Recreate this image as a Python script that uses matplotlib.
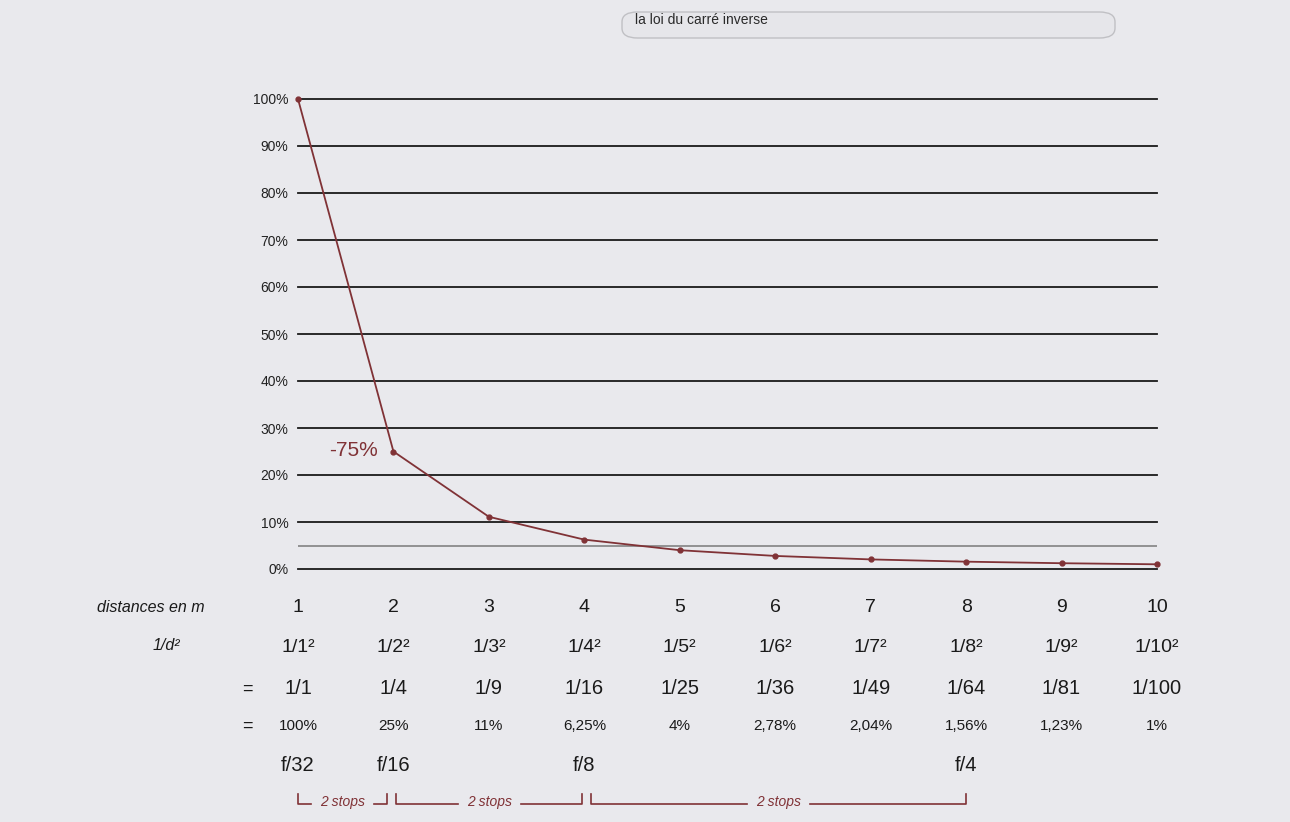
"""
La loi du carré inverse — recréation du graphique (intensité en fonction de la distance)
"""
import matplotlib
matplotlib.use("Agg")
import matplotlib.pyplot as plt
from matplotlib.patches import FancyBboxPatch
from matplotlib.transforms import blended_transform_factory

plt.rcParams["font.family"] = ["Liberation Sans", "DejaVu Sans"]

# --- données ---
distances = [1, 2, 3, 4, 5, 6, 7, 8, 9, 10]
intensite = [100, 25, 11.11, 6.25, 4, 2.78, 2.04, 1.56, 1.23, 1]
carres = ["1/1²", "1/2²", "1/3²", "1/4²", "1/5²", "1/6²", "1/7²", "1/8²", "1/9²", "1/10²"]
fractions = ["1/1", "1/4", "1/9", "1/16", "1/25", "1/36", "1/49", "1/64", "1/81", "1/100"]
pourcents = ["100%", "25%", "11%", "6,25%", "4%", "2,78%", "2,04%", "1,56%", "1,23%", "1%"]
ouvertures_x = [1, 2, 4, 8]
ouvertures = ["f/32", "f/16", "f/8", "f/4"]
stops = [(1.0, 1.93), (2.03, 3.98), (4.07, 8.0)]
y_ticks = [0, 10, 20, 30, 40, 50, 60, 70, 80, 90, 100]
y_labels = [f"{v}%" for v in y_ticks]

RED = "#803236"
BG = "#e9e9ed"
W, H = 1290, 822


def fy(px):
    """pixel y (depuis le haut) -> fraction figure"""
    return 1 - px / H


fig = plt.figure(figsize=(12.9, 8.22), dpi=100, facecolor=BG)
ax = fig.add_axes([298 / W, fy(569), (1157 - 298) / W, (569 - 99) / H])
ax.set_facecolor(BG)
ax.set_xlim(1, 10)
ax.set_ylim(0, 100)
for s in ax.spines.values():
    s.set_visible(False)

for v in y_ticks:
    ax.axhline(v, color="#1a1a1a", lw=1.3, zorder=1, clip_on=False)
ax.axhline(5, color="#7a7a7a", lw=1.1, zorder=1)

ax.plot(distances, intensite, color=RED, lw=1.3, marker="o", ms=3.5,
        clip_on=False, zorder=3)
ax.text(1.58, 25.3, "-75%", color=RED, fontsize=15, ha="center", va="center")

ax.set_xticks([])
ax.set_yticks(y_ticks, y_labels, fontsize=10, color="#222222")
ax.tick_params(axis="y", length=0, pad=7)

# --- tableau sous le graphique ---
tr = blended_transform_factory(ax.transData, fig.transFigure)
txt = "#1a1a1a"
fig.text(205 / W, fy(607), "distances en m", fontsize=11.5, style="italic",
         ha="right", va="center", color=txt)
fig.text(180 / W, fy(645), "1/d²", fontsize=11.5, style="italic",
         ha="right", va="center", color=txt)
fig.text(247 / W, fy(689), "=", fontsize=13, ha="center", va="center", color=txt)
fig.text(247 / W, fy(726), "=", fontsize=13, ha="center", va="center", color=txt)

for d, c, f, p in zip(distances, carres, fractions, pourcents):
    ax.text(d, fy(607), str(d), transform=tr, fontsize=14, ha="center", va="center", color=txt)
    ax.text(d, fy(647), c, transform=tr, fontsize=14, ha="center", va="center", color=txt)
    ax.text(d, fy(688), f, transform=tr, fontsize=14.5, ha="center", va="center", color=txt)
    ax.text(d, fy(726), p, transform=tr, fontsize=11, ha="center", va="center", color=txt)

for d, o in zip(ouvertures_x, ouvertures):
    ax.text(d, fy(765), o, transform=tr, fontsize=14.5, ha="center", va="center", color=txt)

# crochets "2 stops"
y0, y1 = fy(804), fy(794)
for a, b in stops:
    mid = (a + b) / 2
    half_gap = 0.33
    ax.plot([a, a, mid - half_gap], [y1, y0, y0], transform=tr, color=RED,
            lw=1.2, clip_on=False)
    ax.plot([mid + half_gap, b, b], [y0, y0, y1], transform=tr, color=RED,
            lw=1.2, clip_on=False)
    ax.text(mid, fy(802), "2 stops", transform=tr, fontsize=10, style="italic",
            ha="center", va="center", color=RED)

# barre de recherche en haut
fig.patches.append(FancyBboxPatch((622 / W, fy(38)), (1115 - 622) / W, 26 / H,
                                  boxstyle="round,pad=0,rounding_size=0.012",
                                  transform=fig.transFigure, facecolor="#e6e6ea",
                                  edgecolor="#c0c0c4", lw=1))
fig.text(635 / W, fy(20), "la loi du carré inverse", fontsize=10,
         ha="left", va="center", color="#2a2a2a")

fig.savefig("out.png", dpi=100, facecolor=BG)
